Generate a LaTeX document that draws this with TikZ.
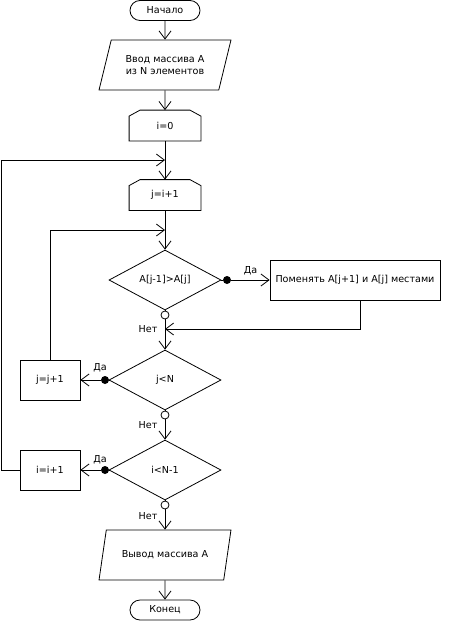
\documentclass[tikz,border=0pt]{standalone}
\usepackage{fontspec}
\setmainfont{DejaVu Sans}
\usetikzlibrary{shapes.geometric,shapes.misc,arrows.meta}

\tikzset{
    term/.style={draw, rounded rectangle, minimum width=70pt, minimum height=20pt, inner sep=0pt},
    io/.style={draw, trapezium, trapezium left angle=69, trapezium right angle=111,
        trapezium stretches=true, minimum width=132pt, minimum height=50pt, align=center},
    limit/.style={rectangle, minimum width=71pt, minimum height=30pt},
    proc/.style={draw, rectangle, minimum width=60pt, minimum height=40pt},
    decision/.style={draw, diamond, aspect=1.87, minimum width=112pt, minimum height=60pt, inner sep=0pt},
    yes/.style={circle, fill, inner sep=0pt, minimum size=8pt},
    no/.style={circle, draw, fill=white, inner sep=0pt, minimum size=8pt},
    arr/.style={-{Straight Barb[length=8pt,width=12pt]}}
}

\def\limitbox#1{(#1.south west) -- ([yshift=-6pt]#1.north west) -- ([xshift=11pt]#1.north west)
    -- ([xshift=-11pt]#1.north east) -- ([yshift=-6pt]#1.north east) -- (#1.south east) -- cycle}

\begin{document}
\begin{tikzpicture}[x=1pt, y=-1pt, line width=.8pt, font=\fontsize{9.6}{11.5}\selectfont]
    \useasboundingbox (0,0) rectangle (451,621);

    %blocks:
    \node[term] (start) at (165,10.5) {Начало};
    \node[io] (input) at (165,65) {Ввод массива A\\из N элементов};
    \node[limit] (i0) at (165,125.5) {i=0};
    \node[limit] (ji) at (165,195) {j=i+1};
    \node[decision] (cmp) at (165,280) {A[j-1]>A[j]};
    \node[proc, minimum width=170pt] (swap) at (355,280) {Поменять A[j+1] и A[j] местами};
    \node[decision] (jlt) at (165,380) {j<N};
    \node[proc] (jj) at (50,380) {j=j+1};
    \node[decision] (ilt) at (165,470) {i<N-1};
    \node[proc] (ii) at (50,470) {i=i+1};
    \node[io] (output) at (165,555) {Вывод массива A};
    \node[term] (end) at (165,610) {Конец};

    %loop limits:
    \draw \limitbox{i0};
    \draw \limitbox{ji};

    %branch marks:
    \node[yes] (d1) at (227,280) {};
    \node[yes] (d2) at (105,380) {};
    \node[yes] (d3) at (105,470) {};
    \node[no] (n1) at (165,315) {};
    \node[no] (n2) at (165,415) {};
    \node[no] (n3) at (165,505) {};

    %join points:
    \coordinate (outer) at (165,160);
    \coordinate (inner) at (165,230);
    \coordinate (merge) at (165,329);
    \coordinate (back) at (1,160);

    %main flow:
    \draw[arr] (start) -- (input);
    \draw[arr] (input) -- (i0);
    \draw[arr] (i0) -- (ji);
    \draw[arr] (ji) -- (cmp);
    \draw (cmp) -- (n1);
    \draw[arr] (n1) -- (jlt);
    \draw (jlt) -- (n2);
    \draw[arr] (n2) -- (ilt);
    \draw (ilt) -- (n3);
    \draw[arr] (n3) -- (output);
    \draw[arr] (output) -- (end);

    %branches:
    \draw (cmp) -- (d1);
    \draw[arr] (d1) -- node[above=1pt] {Да} (swap);
    \draw (jlt) -- (d2);
    \draw[arr] (d2) -- (jj);
    \draw (ilt) -- (d3);
    \draw[arr] (d3) -- (ii);

    %loops back:
    \draw[arr] ([xshift=5pt]swap.south) |- (merge);
    \draw[arr] (jj.north) |- (inner);
    \draw[arr] (ii.west) -| (back) -- (outer);

    %labels:
    \node at (100,368) {Да};
    \node at (100,460) {Да};
    \node at (148,329) {Нет};
    \node at (148,425) {Нет};
    \node at (148,516) {Нет};

\end{tikzpicture}
\end{document}
